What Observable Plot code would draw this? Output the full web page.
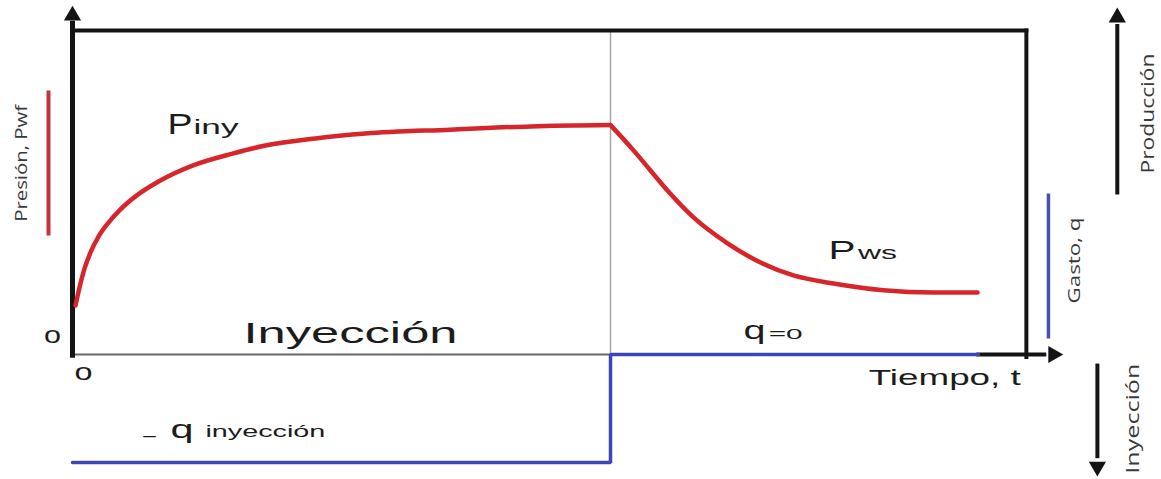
<!DOCTYPE html>
<html><head><meta charset="utf-8">
<script src="https://cdn.jsdelivr.net/npm/d3@7"></script>
<script src="https://cdn.jsdelivr.net/npm/@observablehq/plot@0.6"></script>
<style>body{margin:0;background:#fff} svg{display:block}</style>
</head><body><div id="chart"></div>
<script>
// ---- data (time t in arbitrary units, shut-in at t = 10; pressure 0..100) ----
const tInj  = [0.056, 0.130, 0.223, 0.335, 0.483, 0.669, 0.892, 1.171, 1.599, 2.230, 2.974, 3.587, 4.517, 5.446, 7.026, 8.513, 10];
const pInj  = [15.1, 20.7, 26.5, 31.5, 36.4, 40.7, 44.8, 48.8, 53.4, 58.3, 62.0, 64.5, 66.7, 68.2, 69.4, 70.4, 70.8];
const tFall = [10, 10.428, 10.743, 11.059, 11.543, 12.175, 12.788, 13.401, 14.145, 15.074, 16.004, 16.822];
const pFall = [70.8, 63.0, 56.8, 50.6, 42.3, 34.3, 28.4, 24.4, 21.9, 19.8, 19.1, 19.1];
const tRate = [0, 10, 10, 16.84];
const qRate = [-33.3, -33.3, 0, 0];
const tShut = 10;

const RED = "#d7262b", BLUE = "#3c46b4", INK = "#141414";
const lengths = {};
let nLab = 0;
function seg(x1, y1, x2, y2, opts) {
  return Plot.link([{x1, y1, x2, y2}], {x1: "x1", y1: "y1", x2: "x2", y2: "y2", ...opts});
}
function lab(text, t, p, opts, len, adjust = "spacingAndGlyphs") {
  const id = "L" + (nLab++);
  lengths[id] = [len, adjust];
  return Plot.text([{t, p, text}], {x: "t", y: "p", text: "text", ariaDescription: id,
    fontFamily: "Liberation Sans, Arial, sans-serif", fill: "#1c1c1c", textAnchor: "start", lineAnchor: "bottom", ...opts});
}
function head(t, p, rot, r = 6.4) {
  return Plot.dot([{t, p}], {x: "t", y: "p", symbol: "triangle", r, fill: INK, stroke: "none", rotate: rot});
}
const side = {fontFamily: "Open Sans, sans-serif", fill: "#3a3a3a", rotate: -90, textAnchor: "middle", lineAnchor: "middle"};

const chart = Plot.plot({
  width: 1161, height: 479,
  marginTop: 0, marginRight: 0, marginBottom: 0, marginLeft: 0,
  x: {domain: [0, 10], range: [72, 610], axis: null},
  y: {domain: [0, 100], range: [354, 30], axis: null},
  style: {background: "#fff", overflow: "visible"},
  marks: [
    // frame & axes
    seg(0, 0, tShut, 0, {stroke: "#6a6a6a", strokeWidth: 2}),
    seg(tShut, 0, tShut, 100, {stroke: "#a8a8a8", strokeWidth: 1.5}),
    seg(0, 100, 17.73, 100, {stroke: INK, strokeWidth: 4, strokeLinecap: "square"}),
    seg(17.73, -0.8, 17.73, 100, {stroke: INK, strokeWidth: 4, strokeLinecap: "square"}),
    seg(0, -1, 0, 103, {stroke: INK, strokeWidth: 5}),
    head(0, 104.6, 0),
    seg(16.8, 0, 18.1, 0, {stroke: INK, strokeWidth: 4}),
    head(18.23, 0, 90),
    // rate step
    Plot.line(tRate, {x: tRate, y: qRate, stroke: BLUE, strokeWidth: 3.5, strokeLinejoin: "miter"}),
    // pressure curves
    Plot.line(tInj, {x: tInj, y: pInj, stroke: RED, strokeWidth: 4.5, curve: "monotone-x", strokeLinecap: "round"}),
    Plot.line(tFall, {x: tFall, y: pFall, stroke: RED, strokeWidth: 4.5, curve: "monotone-x"}),
    // side keys
    seg(-0.446, 36.7, -0.446, 81.5, {stroke: "#c2333f", strokeWidth: 4}),
    seg(18.14, 4.9, 18.14, 49.7, {stroke: "#4850b0", strokeWidth: 3.5}),
    seg(19.42, 49.4, 19.42, 102, {stroke: INK, strokeWidth: 4}),
    head(19.42, 104.0, 0),
    seg(19.05, -2.8, 19.05, -32, {stroke: INK, strokeWidth: 4}),
    head(19.05, -34.6, 180),
    // labels
    lab("P", 1.766, 68.2, {fontSize: 29}, 25),
    lab("iny", 2.25, 68.2, {fontSize: 21}, 45),
    lab("P", 14.05, 29.6, {fontSize: 26}, 27),
    lab("ws", 14.60, 29.6, {fontSize: 19}, 39),
    lab("Inyección", 5.167, 3.7, {fontSize: 30, textAnchor: "middle"}, 214),
    lab("q", 12.47, 4.9, {fontSize: 26}, 22),
    lab("=0", 12.94, 4.9, {fontSize: 15}, 34),
    lab("o", -0.37, 3.4, {fontSize: 24, textAnchor: "middle"}, 17),
    lab("o", 0.204, -8.0, {fontSize: 24, textAnchor: "middle"}, 18),
    lab("_", 1.32, -24.1, {fontSize: 20}, 12),
    lab("q", 1.82, -25.9, {fontSize: 26}, 23),
    lab("inyección", 2.47, -25.6, {fontSize: 17}, 120),
    lab("Tiempo, t", 14.80, -9.26, {fontSize: 22}, 152),
    lab("Presión, Pwf", -0.948, 59, {...side, fontSize: 16}, 117),
    lab("Gasto, q", 18.64, 29.0, {...side, fontSize: 16}, 86),
    lab("Producción", 20.0, 74.4, {...side, fontSize: 18}, 120),
    lab("Inyección", 19.72, -19.8, {...side, fontSize: 18}, 110)
  ]
});
for (const [id, [len, adj]] of Object.entries(lengths)) {
  chart.querySelectorAll(`[aria-description="${id}"] text`).forEach(el => {
    el.setAttribute("textLength", len);
    el.setAttribute("lengthAdjust", adj);
  });
}
document.getElementById("chart").appendChild(chart);
</script></body></html>
